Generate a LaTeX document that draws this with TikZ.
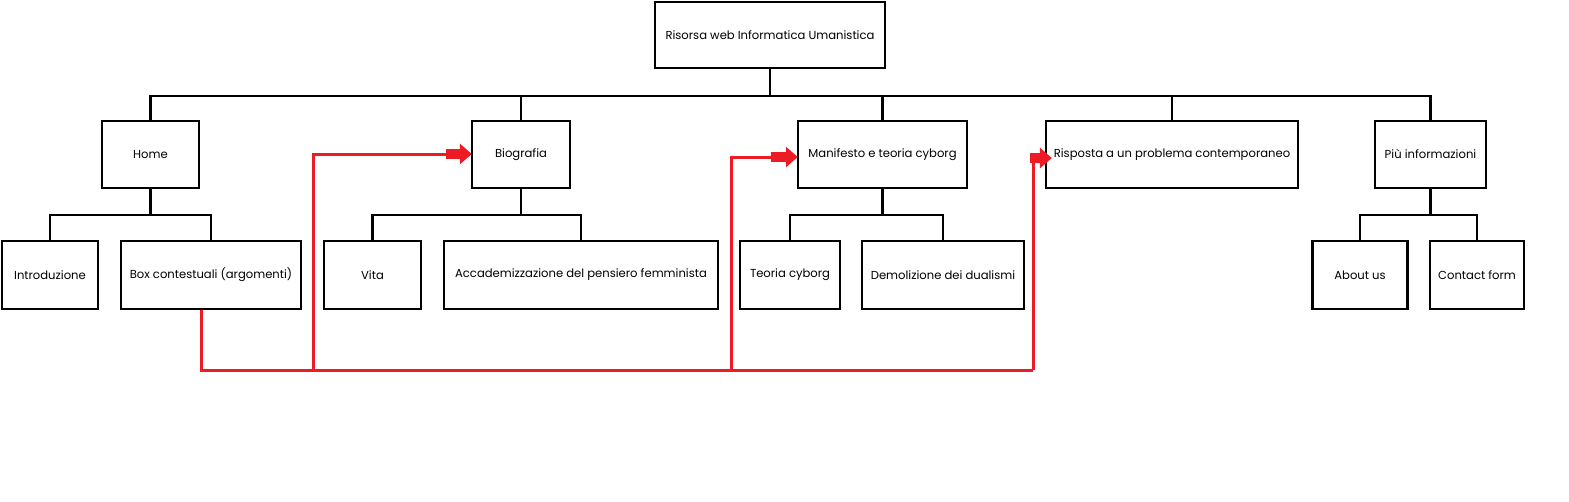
\documentclass[tikz,border=0pt]{standalone}
\usepackage{fontspec}
\setmainfont{Poppins}
\usetikzlibrary{arrows.meta,calc}
\definecolor{arrred}{HTML}{ED1C24}
\tikzset{
  box/.style={draw=black, line width=2.3pt, fill=white, inner sep=0pt, minimum height=67pt, font=\fontsize{11.6}{13}\selectfont, align=center},
  tree/.style={draw=black, line width=2.2pt},
  redline/.style={draw=arrred, line width=3pt},
  blockarrow/.style={draw=arrred, line width=10pt, -{Triangle[width=20pt,length=12pt,fill=arrred]}}
}
\begin{document}
\begin{tikzpicture}[x=1pt,y=-1pt]
\useasboundingbox (0,0) rectangle (1569,501);
% top
\node[box, minimum width=230pt, minimum height=66pt] (top) at (770,35) {Risorsa web Informatica Umanistica};
% level 1
\node[box, minimum width=97pt] (home) at (150.5,154.5) {Home};
\node[box, minimum width=98pt] (bio) at (521,154.5) {Biografia};
\node[box, minimum width=169pt] (man) at (882.5,154.5) {Manifesto e teoria cyborg};
\node[box, minimum width=252pt] (ris) at (1172,154.5) {Risposta a un problema contemporaneo};
\node[box, minimum width=111pt] (piu) at (1430.5,154.5) {Più informazioni};
% level 2
\node[box, minimum width=96pt, minimum height=68pt] (intro) at (50,275) {Introduzione};
\node[box, minimum width=180pt, minimum height=68pt] (boxc) at (211,275) {Box contestuali (argomenti)};
\node[box, minimum width=97pt, minimum height=68pt] (vita) at (372.5,275) {Vita};
\node[box, minimum width=274pt, minimum height=68pt] (acc) at (581,275) {Accademizzazione del pensiero femminista};
\node[box, minimum width=100pt, minimum height=68pt] (teo) at (790,275) {Teoria cyborg};
\node[box, minimum width=162pt, minimum height=68pt] (dem) at (943,275) {Demolizione dei dualismi};
\node[box, minimum width=95pt, minimum height=68pt] (about) at (1360,275) {About us};
\node[box, minimum width=94pt, minimum height=68pt] (contact) at (1477,275) {Contact form};
% tree connectors
\foreach \n in {home,bio,man,ris,piu}
  \draw[tree] (top.south) -- ++(0,27) -| (\n.north);
\foreach \p/\c in {home/intro,home/boxc,bio/vita,bio/acc,man/teo,man/dem,piu/about,piu/contact}
  \draw[tree] (\p.south) -- ++(0,26) -| (\c.north);
% red links
\coordinate (j1) at (313,370);
\coordinate (j2) at (731,370);
\coordinate (j3) at (1033,370);
\draw[redline] ([xshift=-10pt]boxc.south) |- (j3);
\draw[redline] (j1) |- ($(bio.west)+(-20,-0.5)$);
\draw[redline] (j2) |- ($(man.west)+(-20,2.5)$);
\draw[redline] (j3) |- ($(ris.west)+(-10,3.5)$);
\draw[blockarrow] ($(bio.west)+(-25,-0.5)$) -- ($(bio.west)+(1,-0.5)$);
\draw[blockarrow] ($(man.west)+(-26,2.5)$) -- ($(man.west)+(1,2.5)$);
\draw[blockarrow] ($(ris.west)+(-14.5,3.5)$) -- ($(ris.west)+(7,3.5)$);
\end{tikzpicture}
\end{document}
